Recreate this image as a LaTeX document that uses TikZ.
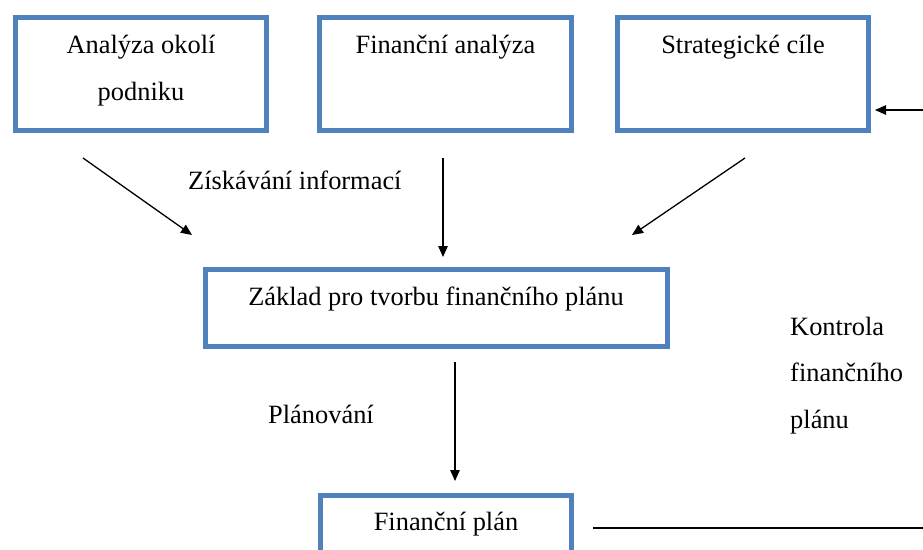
\documentclass[tikz,border=0pt]{standalone}
\usepackage{fontspec}
\setmainfont{Liberation Serif}
\usetikzlibrary{arrows.meta}
\definecolor{boxblue}{RGB}{79,129,189}
\begin{document}
\begin{tikzpicture}[x=1pt,y=-1pt,
  box/.style={draw=boxblue, line width=5pt, inner sep=0pt, fill=white},
  txt/.style={font=\fontsize{26.4}{46.5}\selectfont, inner sep=0pt, align=center},
  lbl/.style={font=\fontsize{26.4}{46.5}\selectfont, inner sep=0pt, align=left},
  arr/.style={-{Triangle[length=11pt,width=9.5pt]}, line width=1.3pt},
  conn/.style={line width=1.3pt}]
\useasboundingbox (0,0) rectangle (923,549);
% boxes
\node[box, minimum width=251pt, minimum height=113pt] (b1) at (141,74) {};
\node[box, minimum width=252pt, minimum height=113pt] (b2) at (445.5,74) {};
\node[box, minimum width=251pt, minimum height=113pt] (b3) at (743,74) {};
\node[box, minimum width=462pt, minimum height=77pt] (b4) at (436.5,308) {};
\node[box, minimum width=251pt, minimum height=77pt] (b5) at (446,534) {};
% box texts (multi-line nodes: base = last line)
\node[txt, anchor=base] (t1) at (141,100) {Analýza okolí\\podniku};
\node[txt, anchor=base] (t2) at (445.5,53) {Finanční analýza};
\node[txt, anchor=base] (t3) at (743,53) {Strategické cíle};
\node[txt, anchor=base] (t4) at (436,305) {Základ pro tvorbu finančního plánu};
\node[txt, anchor=base] (t5) at (446,530) {Finanční plán};
% labels
\node[lbl, anchor=base west] (l1) at (188,189) {Získávání informací};
\node[lbl, anchor=base west] (l2) at (268,423) {Plánování};
\node[lbl, anchor=base west] (l3) at (790,428) {Kontrola\\finančního\\plánu};
% connector coordinates
\coordinate (a1s) at (83,158);
\coordinate (a1e) at (192,235);
\coordinate (a2s) at (443,158);
\coordinate (a2e) at (443,257);
\coordinate (a3s) at (745,158);
\coordinate (a3e) at (632,235);
\coordinate (a4s) at (455,362);
\coordinate (a4e) at (455,481);
\coordinate (a5s) at (923,110);
\coordinate (a5e) at (875,110);
\coordinate (l5s) at (593,528);
\coordinate (l5e) at (923,528);
% connectors
\draw[arr] (a1s) -- (a1e);
\draw[arr] (a2s) -- (a2e);
\draw[arr] (a3s) -- (a3e);
\draw[arr] (a4s) -- (a4e);
\draw[arr] (a5s) -- (a5e);
\draw[conn] (l5s) -- (l5e);
\end{tikzpicture}
\end{document}
